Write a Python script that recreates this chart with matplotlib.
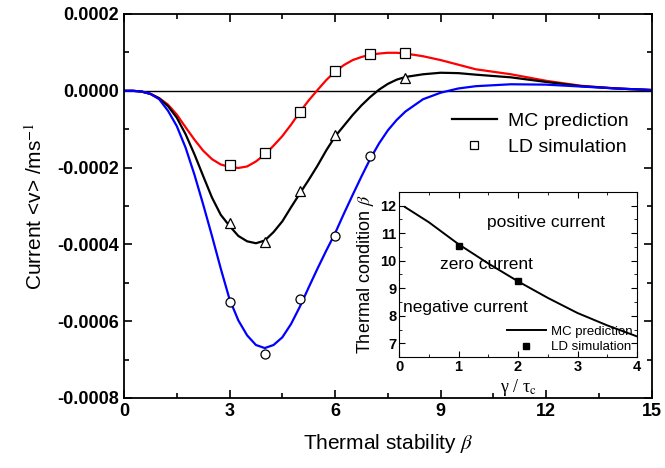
import numpy as np
import matplotlib
matplotlib.use('Agg')
import matplotlib.pyplot as plt
from matplotlib.ticker import MultipleLocator

plt.rcParams['font.family'] = ['Liberation Sans', 'DejaVu Sans']
plt.rcParams['mathtext.fontset'] = 'stix'

# MC prediction curves
beta = [0, 0.25, 0.5, 0.75, 1, 1.25, 1.5, 1.75, 2, 2.25, 2.5, 2.75, 3, 3.25, 3.5, 3.75,
        4, 4.25, 4.5, 4.75, 5, 5.25, 5.5, 5.75, 6, 6.25, 6.5, 6.75, 7, 7.25, 7.5, 7.75, 8,
        8.5, 9, 9.5, 10, 11, 12, 13, 14, 15]
red = [0, 0, -0.000002, -0.000008, -0.000019, -0.000036, -0.000062, -0.000095, -0.000127,
       -0.000156, -0.000178, -0.000192, -0.000198, -0.000201, -0.000197, -0.000184,
       -0.000166, -0.000143, -0.000118, -0.000088, -0.000055, -0.000025, 0.000002, 0.000028,
       0.000050, 0.000067, 0.000080, 0.000088, 0.000094, 0.000097, 0.000099, 0.000099, 0.000097,
       0.000090, 0.000080, 0.000068, 0.000056, 0.000043, 0.000026, 0.000013, 0.000006, 0.000002]
black = [0, 0, -0.000002, -0.000008, -0.00002, -0.00004, -0.00007, -0.000113, -0.000165,
         -0.000222, -0.000278, -0.000323, -0.000352, -0.000378, -0.000392, -0.000397,
         -0.00039, -0.000368, -0.00034, -0.000303, -0.000267, -0.000232, -0.000195, -0.000155,
         -0.000119, -0.000091, -0.000063, -0.000038, -0.000016, 0.000003, 0.000018, 0.000029, 0.000036,
         0.000043, 0.000047, 0.000046, 0.000042, 0.000035, 0.000023, 0.000012, 0.000006, 0.000002]
blue = [0, 0, -0.000002, -0.000008, -0.000022, -0.000052, -0.000092, -0.000148, -0.000218,
        -0.000296, -0.000378, -0.000463, -0.000543, -0.000598, -0.000637, -0.000662,
        -0.00067, -0.000662, -0.000642, -0.000607, -0.000562, -0.000512, -0.000463, -0.000416,
        -0.000371, -0.00032, -0.000271, -0.000223, -0.000177, -0.000137, -0.000103, -0.000076, -0.000054,
        -0.000022, -0.000005, 0.000006, 0.000012, 0.000017, 0.000016, 0.000011, 0.000006, 0.000002]

# LD simulation points
sq_x = [3, 4, 5, 6, 7, 8]
sq_y = [-0.000192, -0.000161, -0.0000545, 0.000052, 0.000096, 0.000099]
tri_x = [3, 4, 5, 6, 8]
tri_y = [-0.000345, -0.000395, -0.000262, -0.000114, 0.000034]
circ_x = [3, 4, 5, 6, 7]
circ_y = [-0.00055, -0.000686, -0.000543, -0.000379, -0.000171]

# inset: zero-current boundary
gam = [0.1, 0.5, 1, 1.5, 2, 2.5, 3, 3.5, 4]
cond = [11.95, 11.4, 10.6, 9.9, 9.25, 8.65, 8.1, 7.65, 7.25]
ld_gam = [1, 2]
ld_cond = [10.55, 9.25]

fig = plt.figure(figsize=(6.65, 4.68), dpi=100)
ax = fig.add_axes([0.1865, 0.1496, 0.7935, 0.8205])

ax.axhline(0, color='black', lw=1)
ax.plot(beta, red, color='red', lw=1.6)
ax.plot(beta, black, color='black', lw=1.6)
ax.plot(beta, blue, color='blue', lw=1.6)
mk = dict(ls='none', mfc='white', mec='black', mew=0.9, ms=6.5)
ax.plot(sq_x, sq_y, marker='s', **mk)
ax.plot(tri_x, tri_y, marker='^', **mk)
ax.plot(circ_x, circ_y, marker='o', **mk)

# legend handles
ax.plot([], [], color='black', lw=1.6, label='MC prediction')
ax.plot([], [], marker='s', ls='none', mfc='white', mec='black', mew=0.9, ms=6, label='LD simulation')
h, l = ax.get_legend_handles_labels()
ax.legend(h, l, loc='upper right', bbox_to_anchor=(0.99, 0.79), frameon=False, fontsize=14,
          handlelength=2.3, handletextpad=0.6, labelspacing=0.45)

ax.set_xlim(0, 15)
ax.set_ylim(-0.0008, 0.0002)
ax.xaxis.set_minor_locator(MultipleLocator(1.5))
ax.yaxis.set_minor_locator(MultipleLocator(0.0001))
ax.tick_params(which='both', direction='in', top=True, right=True, width=1.2)
ax.tick_params(which='major', length=6, labelsize=13)
ax.tick_params(which='minor', length=3.5)
ax.set_xticks([0, 3, 6, 9, 12, 15])
ax.set_xticklabels(['0', '3', '6', '9', '12', '15'], fontweight='bold')
ax.set_yticks([-0.0008, -0.0006, -0.0004, -0.0002, 0, 0.0002])
ax.set_yticklabels(['-0.0008', '-0.0006', '-0.0004', '-0.0002', '0.0000', '0.0002'], fontweight='bold')
for s in ax.spines.values():
    s.set_linewidth(1.3)
ax.set_xlabel(r'Thermal stability $\mathit{\beta}$', fontsize=15, labelpad=9)
ax.set_ylabel(r'Current <v> /ms$^{-1}$', fontsize=15, labelpad=8)

# inset
ins = fig.add_axes([0.600, 0.237, 0.358, 0.353])
ins.plot(gam, cond, color='black', lw=1.4, label='MC prediction')
ins.plot(ld_gam, ld_cond, marker='s', ls='none', color='black', ms=5, label='LD simulation')
ins.set_xlim(0, 4)
ins.set_ylim(6.5, 12.5)
ins.xaxis.set_major_locator(MultipleLocator(1))
ins.xaxis.set_minor_locator(MultipleLocator(0.5))
ins.yaxis.set_major_locator(MultipleLocator(1))
ins.yaxis.set_minor_locator(MultipleLocator(0.5))
ins.tick_params(which='both', direction='in', top=True, right=True, labelsize=10.5, pad=2)
ins.tick_params(which='major', length=4)
ins.tick_params(which='minor', length=2)
for t in ins.get_xticklabels() + ins.get_yticklabels():
    t.set_fontweight('bold')
ins.set_xlabel(r'γ / τ$_{\rm c}$', fontsize=13, labelpad=2, family=['Liberation Serif', 'DejaVu Serif'])
ins.set_ylabel(r'Thermal condition $\mathit{\beta}$', fontsize=13, labelpad=3)
ins.text(1.48, 11.37, 'positive current', fontsize=12.5, va='center')
ins.text(0.69, 9.86, 'zero current', fontsize=12.5, va='center')
ins.text(0.07, 8.3, 'negative current', fontsize=12.5, va='center')
ins.legend(loc='lower right', frameon=False, fontsize=9.5, handlelength=3, borderpad=0.2,
           labelspacing=0.25, handletextpad=0.4, borderaxespad=0.1)

fig.savefig('out.png', dpi=100)
